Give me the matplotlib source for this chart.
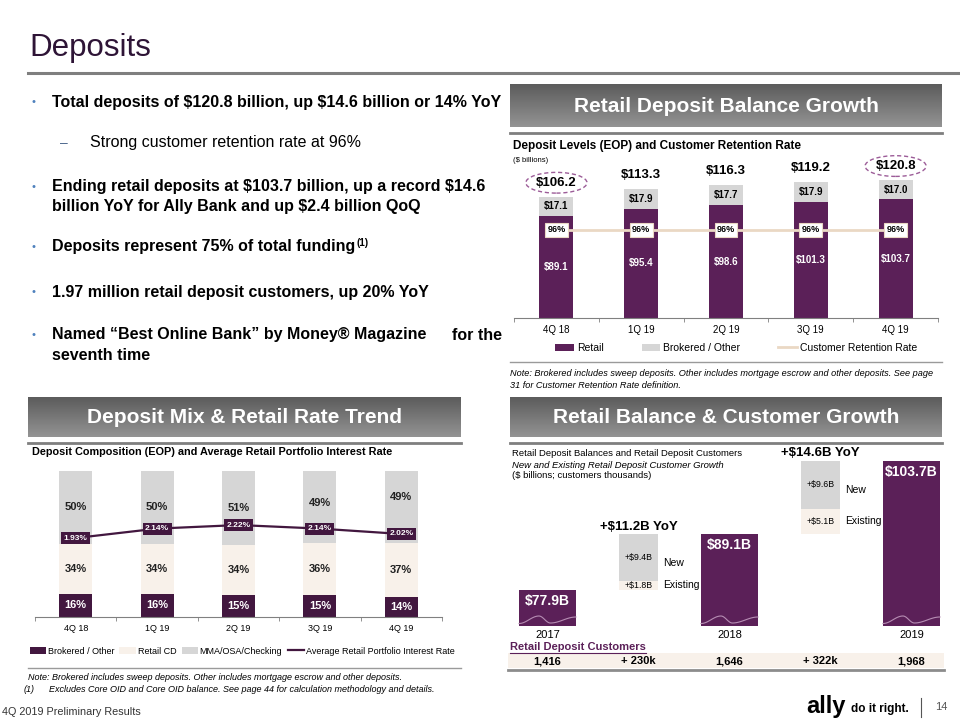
import numpy as np
import matplotlib
matplotlib.use("Agg")
import matplotlib.pyplot as plt
from matplotlib.lines import Line2D
from matplotlib.patches import Rectangle
import matplotlib.transforms as mtransforms

plt.rcParams['font.family'] = ['Liberation Sans', 'DejaVu Sans']
plt.rcParams['text.parse_math'] = False

# ---- data ----
quarters = ['4Q 18', '1Q 19', '2Q 19', '3Q 19', '4Q 19']
retail = [89.1, 95.4, 98.6, 101.3, 103.7]
brokered = [17.1, 17.9, 17.7, 17.9, 17.0]
totals = [106.2, 113.3, 116.3, 119.2, 120.8]
retention = [96, 96, 96, 96, 96]

mix_brokered = [16, 16, 15, 15, 14]
mix_cd = [34, 34, 34, 36, 37]
mix_mma = [50, 50, 51, 49, 49]
retail_rate = [1.93, 2.14, 2.22, 2.14, 2.02]

years = ['2017', '2018', '2019']
year_balances = [77.9, 89.1, 103.7]
existing_growth = [1.8, 5.1]
new_growth = [9.4, 9.6]
yoy_growth = [11.2, 14.6]
customers = [1416, 1646, 1968]

PURPLE = '#5B2058'
DARK_PURPLE = '#42173F'
GRAY = '#D6D6D6'
BEIGE = '#F8F1EA'
RET_LINE = '#EAD8C4'
RULE = '#7F7F7F'

W, H = 960, 720
fig = plt.figure(figsize=(9.6, 7.2), dpi=100)


def fx(x):
    return x / W


def fy(y):
    return 1 - y / H


def px_axes(x0, y0, x1, y1):
    return fig.add_axes([fx(x0), fy(y1), (x1 - x0) / W, (y1 - y0) / H])


def ftext(x, y, s, **kw):
    return fig.text(fx(x), fy(y), s, **kw)


def hline(y, x0, x1, lw=1.5, color=RULE):
    fig.add_artist(Line2D([fx(x0), fx(x1)], [fy(y), fy(y)], lw=lw, color=color))


def header(x0, y0, x1, y1, title):
    ax = px_axes(x0, y0, x1, y1)
    grad = np.linspace(0.36, 0.58, 64).reshape(-1, 1)
    ax.imshow(grad, cmap='gray', vmin=0, vmax=1, aspect='auto', extent=(0, 1, 0, 1))
    ax.set_axis_off()
    ax.text(0.5, 0.48, title, color='white', fontsize=15, fontweight='bold',
            ha='center', va='center', transform=ax.transAxes)


# ---- title and bullets ----
ftext(29, 48, 'Deposits', fontsize=22.5, color='#2E1436', va='center')
hline(73, 28, 960, lw=2.2)

bullet_kw = dict(fontsize=11.5, fontweight='bold', va='center', color='black')
bullets = [
    (102, 'Total deposits of $120.8 billion, up $14.6 billion or 14% YoY'),
    (187, 'Ending retail deposits at $103.7 billion, up a record $14.6'),
    (247, 'Deposits represent 75% of total funding'),
    (292, '1.97 million retail deposit customers, up 20% YoY'),
    (335, 'Named \u201cBest Online Bank\u201d by Money\u00ae Magazine'),
]
texts = {}
for y, s in bullets:
    ftext(31, y, '\u2022', fontsize=8, color='#4F81BD', va='center')
    texts[y] = ftext(52, y, s, **bullet_kw)
ftext(52, 207, 'billion YoY for Ally Bank and up $2.4 billion QoQ', **bullet_kw)
ftext(452, 335, 'for the', **bullet_kw)
ftext(52, 356, 'seventh time', **bullet_kw)
ftext(60, 143, '\u2013', fontsize=10, color='#4F6A8F', va='center')
ftext(90, 143, 'Strong customer retention rate at 96%', fontsize=11.5, va='center')

renderer = fig.canvas.get_renderer()
bb = texts[247].get_window_extent(renderer)
fig.text(bb.x1 / W + 0.001, fy(243), '(1)', fontsize=7, fontweight='bold', va='center')

# ---- top right: Retail Deposit Balance Growth ----
header(510, 84, 942, 127, 'Retail Deposit Balance Growth')
hline(133, 510, 942, lw=2)
ftext(513, 146, 'Deposit Levels (EOP) and Customer Retention Rate', fontsize=8.5,
      fontweight='bold', va='center')
ftext(513, 160, '($ billions)', fontsize=5.5, va='center')

ax1 = px_axes(514, 158, 938, 318)
x = np.arange(len(quarters))
b_ret = ax1.bar(x, retail, 0.4, color=PURPLE, label='Retail')
b_bro = ax1.bar(x, brokered, 0.4, bottom=retail, color=GRAY, label='Brokered / Other')
ax1.set_xlim(-0.5, 4.5)
ax1.set_ylim(0, 140)
for i in range(len(x)):
    ax1.text(i, retail[i] / 2, f'${retail[i]:.1f}', color='white', fontsize=7,
             fontweight='bold', ha='center', va='center')
    ax1.text(i, retail[i] + brokered[i] / 2, f'${brokered[i]:.1f}', color='black',
             fontsize=7, fontweight='bold', ha='center', va='center')
    circled = i in (0, len(x) - 1)
    box = dict(boxstyle='ellipse,pad=0.1', fc='none', ec='#9C5C98', ls=(0, (3, 2)),
               lw=1) if circled else None
    ax1.annotate(f'${totals[i]:.1f}', (i, totals[i]), xytext=(0, 10),
                 textcoords='offset points', ha='center', va='center', fontsize=9.5,
                 fontweight='bold', bbox=box)
for s in ['top', 'right', 'left']:
    ax1.spines[s].set_visible(False)
ax1.spines['bottom'].set_color('#808080')
ax1.set_yticks([])
ax1.set_xticks(x, quarters)
ax1.set_xticks(np.arange(-0.5, 5, 1), minor=True)
ax1.tick_params(axis='x', which='major', length=0, labelsize=7, pad=5)
ax1.tick_params(axis='x', which='minor', length=3, color='#808080')

ax1r = ax1.twinx()
ret_line, = ax1r.plot(x, retention, color=RET_LINE, lw=2, label='Customer Retention Rate')
ax1r.set_ylim(0, 174.5)
ax1r.set_axis_off()
for i in range(len(x)):
    ax1r.text(i, retention[i], f'{retention[i]}%', fontsize=6.5, fontweight='bold',
              ha='center', va='center',
              bbox=dict(boxstyle='square,pad=0.25', fc='white', ec=RET_LINE, lw=0.8))

fig.legend([b_ret, b_bro, ret_line], ['Retail', 'Brokered / Other', 'Customer Retention Rate'],
           loc='center left', bbox_to_anchor=(fx(546), fy(348)), ncol=3, frameon=False,
           fontsize=7.5, handlelength=1.8, handleheight=0.7, handletextpad=0.3,
           columnspacing=3.6)
hline(362, 510, 942, lw=1, color='#9A9A9A')
ftext(510, 373, 'Note: Brokered includes sweep deposits. Other includes mortgage escrow '
      'and other deposits. See page', fontsize=6.6, style='italic', va='center')
ftext(510, 385, '31 for Customer Retention Rate definition.', fontsize=6.6,
      style='italic', va='center')

# ---- bottom left: Deposit Mix & Retail Rate Trend ----
header(28, 397, 461, 437, 'Deposit Mix & Retail Rate Trend')
hline(443, 28, 461, lw=2)
ftext(32, 452, 'Deposit Composition (EOP) and Average Retail Portfolio Interest Rate',
      fontsize=7.8, fontweight='bold', va='center')

ax2 = px_axes(35, 471, 442, 617)
bottom_cd = np.array(mix_brokered)
bottom_mma = bottom_cd + np.array(mix_cd)
m1 = ax2.bar(x, mix_brokered, 0.405, color=DARK_PURPLE, label='Brokered / Other')
m2 = ax2.bar(x, mix_cd, 0.405, bottom=bottom_cd, color=BEIGE, label='Retail CD')
m3 = ax2.bar(x, mix_mma, 0.405, bottom=bottom_mma, color=GRAY, label='MMA/OSA/Checking')
ax2.set_xlim(-0.5, 4.5)
ax2.set_ylim(0, 100)
mma_label_shift = [0, 0, 0, 3, 7]
for i in range(len(x)):
    ax2.text(i, mix_brokered[i] / 2, f'{mix_brokered[i]}%', color='white', fontsize=8,
             fontweight='bold', ha='center', va='center')
    ax2.text(i, bottom_cd[i] + mix_cd[i] / 2, f'{mix_cd[i]}%', fontsize=8,
             fontweight='bold', ha='center', va='center', color='#222222')
    ax2.annotate(f'{mix_mma[i]}%', (i, bottom_mma[i] + mix_mma[i] / 2),
                 xytext=(0, mma_label_shift[i]), textcoords='offset points', fontsize=8,
                 fontweight='bold', ha='center', va='center', color='#222222')
for s in ['top', 'right', 'left']:
    ax2.spines[s].set_visible(False)
ax2.spines['bottom'].set_color('#808080')
ax2.set_yticks([])
ax2.set_xticks(x, quarters)
ax2.set_xticks(np.arange(-0.5, 5, 1), minor=True)
ax2.tick_params(axis='x', which='major', length=0, labelsize=6.5, pad=5)
ax2.tick_params(axis='x', which='minor', length=3, color='#808080')

ax2r = ax2.twinx()
rate_line, = ax2r.plot(x, retail_rate, color=DARK_PURPLE, lw=1.6,
                       label='Average Retail Portfolio Interest Rate')
ax2r.set_ylim(0.167, 3.426)
ax2r.set_axis_off()
for i in range(len(x)):
    ax2r.text(i, retail_rate[i], f'{retail_rate[i]:.2f}%', color='white', fontsize=6,
              fontweight='bold', ha='center', va='center',
              bbox=dict(boxstyle='square,pad=0.3', fc=DARK_PURPLE, ec='none'))

fig.legend([m1, m2, m3, rate_line],
           ['Brokered / Other', 'Retail CD', 'MMA/OSA/Checking',
            'Average Retail Portfolio Interest Rate'],
           loc='center', bbox_to_anchor=(fx(242), fy(651)), ncol=4, frameon=False,
           fontsize=6.5, handlelength=1.8, handleheight=0.7, handletextpad=0.2,
           columnspacing=0.6)
hline(668, 28, 461, lw=1, color='#9A9A9A')
ftext(28, 677, 'Note: Brokered includes sweep deposits. Other includes mortgage escrow '
      'and other deposits.', fontsize=6.5, style='italic', va='center')
ftext(24, 690, '(1)', fontsize=6.5, style='italic', va='center')
ftext(49, 690, 'Excludes Core OID and Core OID balance. See page 44 for calculation '
      'methodology and details.', fontsize=6.5, style='italic', va='center')

# ---- bottom right: Retail Balance & Customer Growth ----
header(510, 397, 942, 437, 'Retail Balance & Customer Growth')
hline(443, 510, 942, lw=2)
ftext(512, 453, 'Retail Deposit Balances and Retail Deposit Customers', fontsize=6.8,
      va='center')
ftext(512, 465, 'New and Existing Retail Deposit Customer Growth', fontsize=6.8,
      style='italic', va='center')
ftext(512, 476, '($ billions; customers thousands)', fontsize=6.8, va='center')

ax3 = px_axes(510, 440, 944, 626)
ax3.set_xlim(-0.412, 4.357)
ax3.set_ylim(70.7, 107.9)
base = ax3.get_ylim()[0]
year_slots = np.array([0, 2, 4])
step_slots = np.array([1, 3])
ax3.bar(year_slots, np.array(year_balances) - base, 0.626, bottom=base, color=PURPLE)
ax3.bar(step_slots, existing_growth, 0.42, bottom=year_balances[:2], color=BEIGE)
new_bottom = np.array(year_balances[:2]) + np.array(existing_growth)
ax3.bar(step_slots, new_growth, 0.42, bottom=new_bottom, color=GRAY)

# decorative swoosh near the foot of each balance bar (pixels above bar foot)
u = np.linspace(0, 1, 60)
ku = [0, 0.35, 0.55, 1.0]
kv = [2.5, 10, 3, 9]
seg = np.clip(np.searchsorted(ku, u, side='right') - 1, 0, len(ku) - 2)
t = (u - np.take(ku, seg)) / (np.take(ku, seg + 1) - np.take(ku, seg))
t = (1 - np.cos(np.pi * t)) / 2
vpx = np.take(kv, seg) * (1 - t) + np.take(kv, seg + 1) * t
px_per_unit = 186 / (107.9 - 70.7)
for s in year_slots:
    ax3.plot(s - 0.313 + u * 0.626, base + vpx / px_per_unit, color='#B68DB3', lw=0.8)

for s, v in zip(year_slots, year_balances):
    ax3.annotate(f'${v:.1f}B', (s, v), xytext=(0, -3), textcoords='offset points',
                 ha='center', va='top', color='white', fontsize=10, fontweight='bold')
for j, s in enumerate(step_slots):
    ax3.text(s, year_balances[j] + existing_growth[j] / 2, f'+${existing_growth[j]:.1f}B',
             ha='center', va='center', fontsize=6.3)
    ax3.text(s, new_bottom[j] + new_growth[j] / 2, f'+${new_growth[j]:.1f}B',
             ha='center', va='center', fontsize=6.3)
    ax3.text(s + 0.27, year_balances[j] + existing_growth[j] / 2, 'Existing',
             ha='left', va='center', fontsize=7.5)
    ax3.text(s + 0.27, new_bottom[j] + new_growth[j] / 2 - 1, 'New',
             ha='left', va='center', fontsize=7.5)
    ax3.annotate(f'+${yoy_growth[j]:.1f}B YoY', (s, new_bottom[j] + new_growth[j]),
                 xytext=(0, 1), textcoords='offset points', ha='center', va='bottom',
                 fontsize=9.5, fontweight='bold')
ax3.set_axis_off()
for s, yr in zip(year_slots, years):
    ax3.text(s, base, yr, ha='center', va='top', fontsize=8,
             transform=ax3.transData + mtransforms.ScaledTranslation(0, -3 / 72,
                                                                     fig.dpi_scale_trans))

# customers table
fig.add_artist(Rectangle((fx(508), fy(668)), (944 - 508) / W, 15 / H, color=BEIGE, lw=0))
hline(670, 508, 944, lw=2, color='#8C8C8C')
cust_title = ftext(510, 647, 'Retail Deposit Customers', fontsize=8, fontweight='bold',
                   color=PURPLE, va='center')
bb = cust_title.get_window_extent(renderer)
fig.add_artist(Line2D([bb.x0 / W, bb.x1 / W], [fy(653), fy(653)], lw=0.8, color=PURPLE))
row_tf = mtransforms.blended_transform_factory(ax3.transData, fig.transFigure)
adds = np.diff(customers)
for s, c in zip(year_slots, customers):
    fig.text(s, fy(661), f'{c:,}', transform=row_tf, ha='center', va='center',
             fontsize=8, fontweight='bold')
for s, a in zip(step_slots, adds):
    fig.text(s, fy(661), f'+ {a}k', transform=row_tf, ha='center', va='center',
             fontsize=8, fontweight='bold')

# ---- footer ----
ftext(2, 712, '4Q 2019 Preliminary Results', fontsize=7.8, color='#333333', va='center')
ftext(806, 707, 'ally', fontsize=17, fontweight='bold', va='center')
ftext(851, 709, 'do it right.', fontsize=8.5, fontweight='bold', va='center')
fig.add_artist(Line2D([fx(921), fx(921)], [fy(698), fy(717)], lw=0.8, color='#555555'))
ftext(935, 707, '14', fontsize=8, color='#555555', va='center')

fig.savefig('out.png', dpi=100)
